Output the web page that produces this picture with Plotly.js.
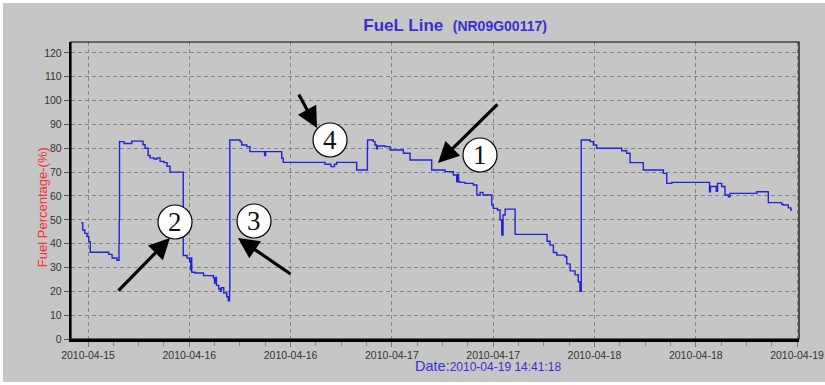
<!DOCTYPE html>
<html>
<head>
<meta charset="utf-8">
<script src="https://cdn.plot.ly/plotly-3.0.1.min.js"></script>
<style>
  html, body { margin: 0; padding: 0; background: #ffffff; }
  #chart { position: absolute; left: 3px; top: 3px; width: 822px; height: 379px; }
</style>
</head>
<body>
<div id="chart"></div>
<script>
// ---- data ----
const fuelTimes = [
  '2010-04-15 11:13','2010-04-15 11:22','2010-04-15 11:37','2010-04-15 11:53','2010-04-15 12:05','2010-04-15 12:16',
  '2010-04-15 14:27','2010-04-15 14:51','2010-04-15 15:26','2010-04-15 15:40','2010-04-15 15:42','2010-04-15 15:44',
  '2010-04-15 16:16','2010-04-15 17:11','2010-04-15 18:31','2010-04-15 18:45','2010-04-15 19:07','2010-04-15 19:21',
  '2010-04-15 19:49','2010-04-15 20:11','2010-04-15 20:32','2010-04-15 21:00','2010-04-15 21:22','2010-04-15 21:43',
  '2010-04-15 23:17','2010-04-15 23:44','2010-04-16 00:02','2010-04-16 00:10','2010-04-16 00:13','2010-04-16 00:17',
  '2010-04-16 00:41','2010-04-16 01:41','2010-04-16 02:52','2010-04-16 02:59','2010-04-16 03:06','2010-04-16 03:13',
  '2010-04-16 03:29','2010-04-16 03:40','2010-04-16 03:47','2010-04-16 04:05','2010-04-16 04:26','2010-04-16 04:37',
  '2010-04-16 04:46','2010-04-16 04:48',
  '2010-04-16 06:01','2010-04-16 06:13','2010-04-16 06:48','2010-04-16 07:11','2010-04-16 08:55','2010-04-16 09:02',
  '2010-04-16 10:57','2010-04-16 11:08','2010-04-16 16:05','2010-04-16 16:47','2010-04-16 17:12','2010-04-16 17:28',
  '2010-04-16 19:50','2010-04-16 21:06','2010-04-16 21:07',
  '2010-04-16 21:48','2010-04-16 22:00','2010-04-16 22:11','2010-04-16 22:18','2010-04-16 23:11','2010-04-16 23:47',
  '2010-04-17 01:22','2010-04-17 02:09','2010-04-17 04:43','2010-04-17 06:18','2010-04-17 07:17','2010-04-17 07:41',
  '2010-04-17 07:47','2010-04-17 07:54','2010-04-17 08:05','2010-04-17 08:40','2010-04-17 09:39','2010-04-17 10:04',
  '2010-04-17 10:27','2010-04-17 10:48','2010-04-17 11:50','2010-04-17 12:01','2010-04-17 12:30','2010-04-17 12:49',
  '2010-04-17 13:01','2010-04-17 13:10','2010-04-17 13:25','2010-04-17 14:36','2010-04-17 18:23','2010-04-17 18:44',
  '2010-04-17 19:08','2010-04-17 19:32','2010-04-17 20:31','2010-04-17 20:43','2010-04-17 21:07','2010-04-17 21:42',
  '2010-04-17 22:05','2010-04-17 22:17','2010-04-17 22:26',
  '2010-04-17 23:29','2010-04-17 23:52','2010-04-18 00:16','2010-04-18 03:14','2010-04-18 03:49','2010-04-18 04:13',
  '2010-04-18 05:47','2010-04-18 08:10','2010-04-18 08:34','2010-04-18 09:10','2010-04-18 13:38','2010-04-18 13:45',
  '2010-04-18 14:26','2010-04-18 14:35','2010-04-18 15:04','2010-04-18 15:28','2010-04-18 15:52','2010-04-18 16:04',
  '2010-04-18 19:14','2010-04-18 20:36','2010-04-18 22:11','2010-04-18 22:23','2010-04-18 22:58','2010-04-18 23:16',
  '2010-04-18 23:20'
];
const fuelValues = [
  48.8,45.7,44.3,43,40.8,36.4,
  35.5,34,33,40,50,82.8,
  82,83,81.5,80,77,76,
  75.5,76,74.5,74,72.5,70,
  35,34,32.5,29,34,28,
  27.7,26.6,25.5,23.5,25.8,22.5,
  21,20,21.5,19.3,17.7,16,
  20,83.5,
  82.8,81.4,80.7,78.6,77,78.6,
  75.8,74.1,73.3,72.3,73.3,74.1,
  70.9,80,83.5,
  82.8,81.4,79.8,81,80.7,79.3,
  77.9,75.1,70.9,70.2,68.8,66,
  69,66,65.7,65.3,64.6,60.4,
  61.5,60.4,56.2,54.8,54.1,50,
  43.6,52,54.5,43.9,41,39.4,
  36.3,35.2,34.5,31.5,28.6,26.9,
  24,20,83.5,
  82.8,81.4,80,79,77.9,74,
  70.9,69.5,65.3,65.7,61.8,64,
  62,65.3,64,60.4,59.7,61.1,
  61.8,57.2,56.5,56.2,55,54.1,
  53.8
];
const xTickVals = ['2010-04-15 12:00','2010-04-16 00:00','2010-04-16 12:00','2010-04-17 00:00',
                   '2010-04-17 12:00','2010-04-18 00:00','2010-04-18 12:00','2010-04-19 00:00'];
const xTickText = ['2010-04-15','2010-04-16','2010-04-16','2010-04-17',
                   '2010-04-17','2010-04-18','2010-04-18','2010-04-19'];
const yTickVals = [0,10,20,30,40,50,60,70,80,90,100,110,120];
const calloutLabels = ['1','2','3','4'];
const titleMain = 'FueL Line';
const titleSub = '(NR09G00117)';
const yTitle = 'Fuel Percentage-(%)';
const dateLabel = 'Date:';
const dateValue = '2010-04-19 14:41:18';

// ---- callout placement (paper fractions of plot area) ----
const circlePos = [[0.5618,0.6195],[0.1429,0.3939],[0.2514,0.3973],[0.3558,0.6700]];
const arrowPos = [[0.5041,0.5926,61,-60],[0.1360,0.3400,-53,54],[0.2294,0.3400,54,37],[0.3379,0.7104,-19,-35]];

const blue = '#3a2fd0';
const bg = '#c6c6c6';

const trace = {
  x: fuelTimes, y: fuelValues, type: 'scatter', mode: 'lines',
  line: { color: '#2222d8', width: 1.4, shape: 'hv' },
  hoverinfo: 'skip'
};

const shapes = [
  { type: 'rect', xref: 'paper', yref: 'paper', x0: 0, x1: 1, y0: 0, y1: 1,
    line: { color: '#000000', width: 1.2 }, layer: 'above' }
];
circlePos.forEach(p => {
  shapes.push({ type: 'circle', xref: 'paper', yref: 'paper',
    xsizemode: 'pixel', ysizemode: 'pixel', xanchor: p[0], yanchor: p[1],
    x0: -17, x1: 17, y0: -17, y1: 17,
    fillcolor: '#ffffff', line: { color: '#000000', width: 1.2 }, layer: 'above' });
});

const annotations = [];
arrowPos.forEach(a => {
  annotations.push({ xref: 'paper', yref: 'paper', x: a[0], y: a[1], ax: a[2], ay: a[3],
    text: '', showarrow: true, arrowhead: 2, arrowsize: 1.3, arrowwidth: 3.2, arrowcolor: '#000000' });
});
circlePos.forEach((p, i) => {
  annotations.push({ xref: 'paper', yref: 'paper', x: p[0], y: p[1], xanchor: 'center', yanchor: 'middle',
    text: calloutLabels[i], showarrow: false,
    font: { family: 'Liberation Serif, Times New Roman, serif', size: 27, color: '#111111' } });
});
annotations.push({ xref: 'paper', yref: 'paper', x: -0.0398, y: 0.444, xanchor: 'center', yanchor: 'middle',
  text: yTitle, textangle: -90, showarrow: false,
  font: { family: 'Liberation Sans, Arial, sans-serif', size: 13, color: '#f53030' } });
annotations.push({ xref: 'paper', yref: 'paper', x: 0.573, y: -0.091, xanchor: 'center', yanchor: 'middle',
  text: '<span style="font-size:14.5px">' + dateLabel + '</span><span style="font-size:12px">' + dateValue + '</span>',
  showarrow: false,
  font: { family: 'Liberation Sans, Arial, sans-serif', size: 12, color: blue } });

const layout = {
  width: 822, height: 379,
  margin: { l: 68, r: 26, t: 39, b: 43 },
  paper_bgcolor: bg, plot_bgcolor: bg,
  showlegend: false,
  title: {
    text: '<b>' + titleMain + '</b>&nbsp;&nbsp;<b><span style="font-size:14px">' + titleSub + '</span></b>',
    xref: 'container', yref: 'container', x: 0.550, xanchor: 'center', y: 0.942, yanchor: 'middle',
    font: { family: 'Liberation Sans, Arial, sans-serif', size: 17, color: blue }
  },
  xaxis: {
    type: 'date',
    range: ['2010-04-15 09:59', '2010-04-19 00:14'],
    tickmode: 'array', tickvals: xTickVals, ticktext: xTickText,
    ticklabeloverflow: 'allow',
    ticks: 'outside', ticklen: 5, tickcolor: '#777777', tickwidth: 1,
    minor: { dtick: 10800000, tick0: '2010-04-15 12:00', ticks: 'outside', ticklen: 4, tickcolor: '#888888', showgrid: false },
    showline: true, linecolor: '#000000', linewidth: 2.5,
    showgrid: true, gridcolor: '#858585', gridwidth: 1, griddash: '4px,3px',
    zeroline: false,
    tickfont: { family: 'Liberation Sans, Arial, sans-serif', size: 10.5, color: '#333333' }
  },
  yaxis: {
    range: [0, 124.6],
    tickmode: 'array', tickvals: yTickVals,
    ticks: 'outside', ticklen: 5, tickcolor: '#555555', tickwidth: 1,
    showline: true, linecolor: '#000000', linewidth: 2.2,
    showgrid: true, gridcolor: '#858585', gridwidth: 1, griddash: '4px,3px',
    zeroline: false,
    tickfont: { family: 'Liberation Sans, Arial, sans-serif', size: 10.5, color: '#333333' }
  },
  shapes: shapes,
  annotations: annotations
};

Plotly.newPlot('chart', [trace], layout, { displayModeBar: false, staticPlot: true });
</script>
</body>
</html>
